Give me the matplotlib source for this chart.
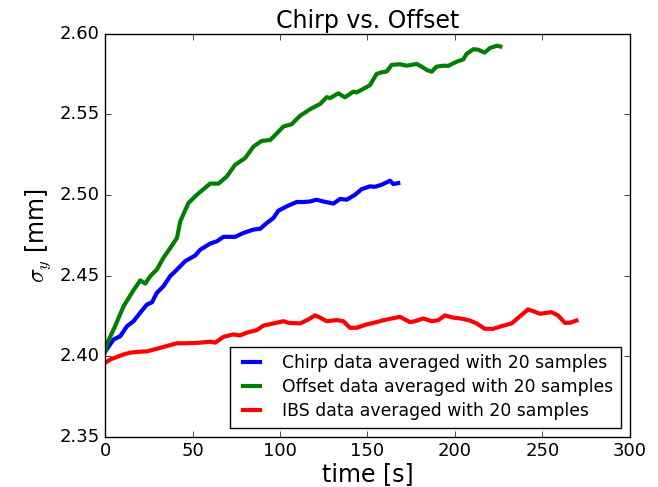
import matplotlib
matplotlib.use("Agg")
import matplotlib.pyplot as plt

plt.style.use("classic")

# sigma_y vs time, moving average over 20 samples
chirp_t = [0, 4.8, 8.6, 12.4, 16.2, 20, 23.8, 26.7, 29.5, 33.3, 37.1, 41,
           45.7, 51.4, 54.3, 60, 63.8, 67.6, 74.3, 79, 84.8, 88.6, 92.4,
           96.2, 99, 103.8, 109.5, 113.3, 117.1, 120.9, 124.8, 130.5, 134.3,
           138.1, 142.9, 146.7, 151.4, 154.3, 158.1, 162.9, 164.8, 167.6]
chirp_sigma = [2.403, 2.4104, 2.4124, 2.4186, 2.4217, 2.427, 2.432, 2.4334,
               2.4393, 2.4434, 2.4496, 2.4537, 2.4589, 2.4624, 2.466, 2.4698,
               2.4712, 2.474, 2.474, 2.4764, 2.4785, 2.479, 2.4826, 2.4857,
               2.4902, 2.4929, 2.4956, 2.4956, 2.4959, 2.497, 2.4959, 2.4946,
               2.4975, 2.497, 2.5001, 2.5036, 2.5053, 2.505, 2.5063, 2.5088,
               2.5067, 2.5073]

offset_t = [0, 1, 4.8, 10.5, 16.2, 20, 22.9, 25.7, 29.5, 33.3, 37.1, 41,
            42.9, 47.6, 52.4, 60, 64.8, 69.5, 74.3, 80, 84.8, 89.5, 94.3,
            97.1, 101.9, 106.7, 111.4, 117.1, 122.9, 126.7, 128.6, 133.3,
            137.1, 141.9, 143.8, 151.4, 155.2, 158.1, 161, 163.8, 168.6,
            172.4, 178.1, 181, 183.8, 186.7, 189.5, 193.3, 196.2, 201, 204.8,
            206.7, 210.5, 213.3, 217, 220, 224, 226]
offset_sigma = [2.403, 2.408, 2.4166, 2.431, 2.441, 2.447, 2.445, 2.4496,
                2.4537, 2.461, 2.467, 2.4733, 2.4836, 2.495, 2.5001, 2.507,
                2.507, 2.5114, 2.5187, 2.5228, 2.530, 2.5335, 2.534, 2.537,
                2.5424, 2.5439, 2.549, 2.5531, 2.5564, 2.5606, 2.560, 2.563,
                2.5605, 2.564, 2.5635, 2.568, 2.575, 2.576, 2.5765, 2.5806,
                2.581, 2.5801, 2.5812, 2.5795, 2.5775, 2.5764, 2.5795, 2.5801,
                2.580, 2.5826, 2.584, 2.5874, 2.5903, 2.590, 2.5882, 2.591,
                2.5925, 2.592]

ibs_t = [0, 2.9, 10.5, 14.3, 20, 23.8, 29.5, 35.2, 41, 46.7, 54.3, 60, 62.9,
         67.6, 73.3, 77.1, 81, 86.7, 90.5, 96.2, 101.9, 104.8, 111.4, 116.2,
         120, 122.9, 126.7, 132.4, 136.2, 140, 143.8, 149.5, 155.2, 159,
         168.6, 174.3, 177.1, 181.9, 186.7, 190.5, 194.3, 199, 203.8, 208.6,
         212.4, 217.1, 221.9, 226.7, 232.4, 236.2, 241.9, 244.8, 248.6,
         255.2, 259, 262.9, 265.7, 269.5]
ibs_sigma = [2.396, 2.398, 2.4011, 2.4022, 2.4028, 2.403, 2.4046, 2.4063,
             2.408, 2.408, 2.4084, 2.409, 2.4084, 2.412, 2.4135, 2.4129,
             2.4146, 2.4162, 2.419, 2.4203, 2.4217, 2.4207, 2.4203, 2.4228,
             2.4253, 2.4239, 2.4217, 2.4224, 2.4217, 2.4176, 2.4176, 2.4197,
             2.4211, 2.4223, 2.4244, 2.4211, 2.4217, 2.4234, 2.4217, 2.4223,
             2.4253, 2.4239, 2.4233, 2.4221, 2.4203, 2.417, 2.417, 2.4186,
             2.4203, 2.4238, 2.429, 2.4279, 2.4263, 2.4273, 2.4253, 2.4207,
             2.4207, 2.4221]

labels = ["Chirp data averaged with 20 samples",
          "Offset data averaged with 20 samples",
          "IBS data averaged with 20 samples"]

fig = plt.figure(figsize=(6.58, 4.87), dpi=100, facecolor="white")
ax = fig.add_axes([0.16, 0.103, 0.797, 0.828])

ax.plot(chirp_t, chirp_sigma, color="b", lw=3, label=labels[0])
ax.plot(offset_t, offset_sigma, color="g", lw=3, label=labels[1])
ax.plot(ibs_t, ibs_sigma, color="r", lw=3, label=labels[2])

ax.set_xlim(0, 300)
ax.set_ylim(2.35, 2.60)
ax.set_xticks([0, 50, 100, 150, 200, 250, 300])
ax.set_yticks([2.35, 2.40, 2.45, 2.50, 2.55, 2.60])
ax.tick_params(labelsize=13)
ax.set_title("Chirp vs. Offset", fontsize=17, pad=4)
ax.set_xlabel("time [s]", fontsize=17, labelpad=1)
ax.set_ylabel(r"$\sigma_y$ [mm]", fontsize=17)

leg = ax.legend(loc="lower right", fontsize=12.4, handlelength=1.6,
                handletextpad=1.0, borderpad=0.45, labelspacing=0.35)
leg.get_frame().set_linewidth(1.0)

fig.savefig("out.png", dpi=100, facecolor="white")
